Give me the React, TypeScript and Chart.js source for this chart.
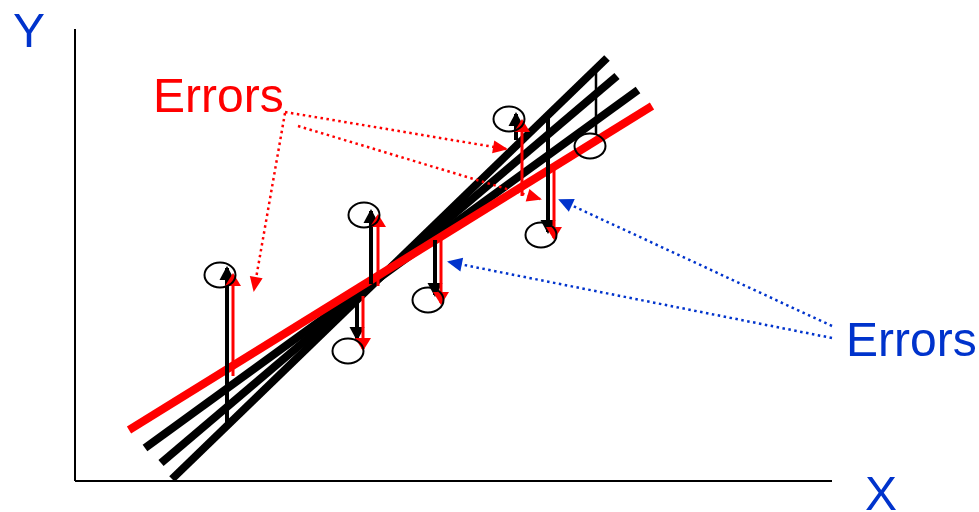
import React, { useEffect, useRef } from "react";
import { Chart, registerables } from "chart.js";

Chart.register(...registerables);

// ---- Data (in chart units) ----
const xAxisLine = [{ x: 75, y: 481 }, { x: 832, y: 481 }];
const yAxisLine = [{ x: 75, y: 29 }, { x: 75, y: 481 }];

const redFit = [{ x: 129, y: 430 }, { x: 652, y: 106 }];
const blackFitA = [{ x: 145, y: 448 }, { x: 638, y: 90 }];
const blackFitB = [{ x: 161, y: 463 }, { x: 617, y: 76 }];
const blackFitC = [{ x: 172, y: 479 }, { x: 607, y: 58 }];

const observations = [
  { x: 220, y: 275 },
  { x: 364, y: 215 },
  { x: 348, y: 351 },
  { x: 428, y: 300 },
  { x: 509, y: 119 },
  { x: 541, y: 235 },
  { x: 590, y: 146 },
];

// black residuals: [x, from y (line), to y (point)]
const blackErrors = [
  [227, 424, 268],
  [371, 284, 211],
  [357, 298, 339],
  [435, 240, 295],
  [516, 140, 114],
  [548, 116, 232],
];
const blackErrorNoHead = [596, 72, 134];

// red residuals: [x, from y (line), to y (point)]
const redErrors = [
  [233, 376, 275],
  [378, 286, 216],
  [363, 296, 349],
  [441, 238, 303],
  [522, 196, 121],
  [554, 170, 238],
];

// annotation pointers: [fromX, fromY, toX, toY]
const redPointers = [
  [285, 113, 254, 290],
  [285, 112, 506, 149],
  [298, 126, 540, 199],
];
const bluePointers = [
  [832, 326, 560, 200],
  [832, 338, 449, 262],
];

const textLabels = [
  { text: "Y", x: 13, y: 47, color: "#0033CC" },
  { text: "X", x: 865, y: 510, color: "#0033CC" },
  { text: "Errors", x: 153, y: 112, color: "#FF0000" },
  { text: "Errors", x: 846, y: 356, color: "#0033CC" },
];

const RED = "#FF0000";
const BLUE = "#0033CC";
const BLACK = "#000000";

function makeEllipse(): HTMLCanvasElement {
  const c = document.createElement("canvas");
  c.width = 36;
  c.height = 30;
  const g = c.getContext("2d")!;
  g.beginPath();
  g.ellipse(18, 15, 15.5, 12.5, 0, 0, Math.PI * 2);
  g.lineWidth = 2;
  g.strokeStyle = "#000000";
  g.stroke();
  return c;
}

const arrowPlugin = {
  id: "arrowHeads",
  afterDatasetDraw(chart: any, args: any) {
    const ds = chart.data.datasets[args.index];
    if (!ds.arrow) return;
    const pts = args.meta.data;
    if (pts.length < 2) return;
    const a = pts[pts.length - 2];
    const b = pts[pts.length - 1];
    const ang = Math.atan2(b.y - a.y, b.x - a.x);
    const dx = Math.cos(ang);
    const dy = Math.sin(ang);
    const { len, width, ext } = ds.arrow;
    const tx = b.x + dx * ext;
    const ty = b.y + dy * ext;
    const bx = tx - dx * len;
    const by = ty - dy * len;
    const ctx = chart.ctx;
    ctx.save();
    ctx.beginPath();
    ctx.moveTo(tx, ty);
    ctx.lineTo(bx - dy * width / 2, by + dx * width / 2);
    ctx.lineTo(bx + dy * width / 2, by - dx * width / 2);
    ctx.closePath();
    ctx.fillStyle = ds.borderColor;
    ctx.fill();
    ctx.restore();
  },
};

const textPlugin = {
  id: "textLabels",
  afterDraw(chart: any) {
    const ctx = chart.ctx;
    const xs = chart.scales.x;
    const ys = chart.scales.y;
    ctx.save();
    ctx.font = '48px "Liberation Sans", Arial, sans-serif';
    ctx.textAlign = "left";
    ctx.textBaseline = "alphabetic";
    textLabels.forEach((l) => {
      ctx.fillStyle = l.color;
      ctx.fillText(l.text, xs.getPixelForValue(l.x), ys.getPixelForValue(l.y));
    });
    ctx.restore();
  },
};

function seg(data: any[], color: string, width: number, order: number, extra: any = {}) {
  return {
    data,
    showLine: true,
    borderColor: color,
    backgroundColor: color,
    borderWidth: width,
    pointRadius: 0,
    pointHoverRadius: 0,
    tension: 0,
    fill: false,
    borderCapStyle: "butt",
    order,
    clip: false,
    ...extra,
  };
}

export default function App() {
  const ref = useRef<HTMLCanvasElement | null>(null);

  useEffect(() => {
    document.body.style.margin = "0";
    if (!ref.current) return;
    const ellipse = makeEllipse();
    const datasets: any[] = [];

    datasets.push(seg(xAxisLine, BLACK, 2, 20));
    datasets.push(seg(yAxisLine, BLACK, 2, 20));
    [blackFitA, blackFitB, blackFitC].forEach((f) => datasets.push(seg(f, BLACK, 8, 15)));
    datasets.push(seg(redFit, RED, 8, 14));

    blackErrors.forEach(([x, y0, y1]) =>
      datasets.push(
        seg([{ x, y: y0 }, { x, y: y1 }], BLACK, 4, 10, {
          arrow: { len: 14, width: 15, ext: 2 },
        })
      )
    );
    datasets.push(
      seg(
        [
          { x: blackErrorNoHead[0], y: blackErrorNoHead[1] },
          { x: blackErrorNoHead[0], y: blackErrorNoHead[2] },
        ],
        BLACK,
        2.5,
        10
      )
    );
    redErrors.forEach(([x, y0, y1]) =>
      datasets.push(
        seg([{ x, y: y0 }, { x, y: y1 }], RED, 3, 9, {
          arrow: { len: 13, width: 16, ext: 2 },
        })
      )
    );

    redPointers.forEach(([x0, y0, x1, y1]) =>
      datasets.push(
        seg([{ x: x0, y: y0 }, { x: x1, y: y1 }], RED, 2.5, 5, {
          borderDash: [2.5, 3.5],
          arrow: { len: 15, width: 13, ext: 2 },
        })
      )
    );
    bluePointers.forEach(([x0, y0, x1, y1]) =>
      datasets.push(
        seg([{ x: x0, y: y0 }, { x: x1, y: y1 }], BLUE, 2.5, 5, {
          borderDash: [2.5, 3.5],
          arrow: { len: 15, width: 14, ext: 2 },
        })
      )
    );

    datasets.push({
      data: observations,
      showLine: false,
      pointStyle: ellipse,
      pointRadius: 16,
      pointHoverRadius: 16,
      borderWidth: 0,
      borderColor: BLACK,
      backgroundColor: "rgba(0,0,0,0)",
      order: 0,
      clip: false,
    });

    const chart = new Chart(ref.current, {
      type: "scatter",
      data: { datasets },
      options: {
        responsive: false,
        animation: false,
        events: [],
        layout: { padding: 0, autoPadding: false },
        plugins: {
          legend: { display: false },
          tooltip: { enabled: false },
          title: { display: false },
        },
        scales: {
          x: { type: "linear", min: 0, max: 979, display: false },
          y: { type: "linear", min: 0, max: 512, reverse: true, display: false },
        },
      },
      plugins: [arrowPlugin, textPlugin],
    } as any);

    return () => chart.destroy();
  }, []);

  return (
    <div style={{ width: 979, height: 512, background: "#FFFFFF" }}>
      <canvas ref={ref} width={979} height={512} style={{ display: "block" }} />
    </div>
  );
}
